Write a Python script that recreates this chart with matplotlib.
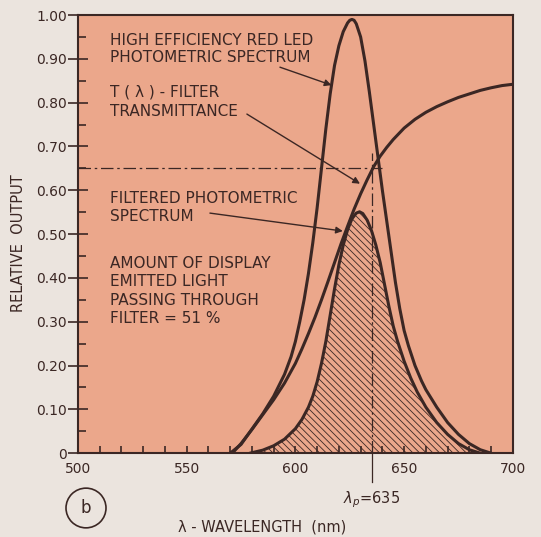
import matplotlib
matplotlib.use('Agg')
import matplotlib.pyplot as plt
from matplotlib.patches import Circle
from matplotlib.ticker import MultipleLocator

# values (wavelength in nm, relative output)
led_wl = [570, 575, 580, 585, 590, 595, 598, 600, 602, 604, 606, 608, 610, 612, 614,
          616, 618, 620, 622, 624, 625, 626, 627, 628, 630, 632, 634, 636, 638, 640,
          642, 644, 646, 648, 650, 652, 655, 658, 660, 665, 670, 675, 680, 685, 690]
led_out = [0.0, 0.02, 0.055, 0.09, 0.13, 0.18, 0.22, 0.255, 0.30, 0.35, 0.41, 0.48,
           0.56, 0.65, 0.74, 0.82, 0.885, 0.93, 0.962, 0.982, 0.988, 0.99, 0.988, 0.98,
           0.95, 0.895, 0.825, 0.75, 0.675, 0.60, 0.53, 0.46, 0.39, 0.33, 0.28, 0.245,
           0.20, 0.165, 0.145, 0.105, 0.07, 0.043, 0.022, 0.008, 0.0]

filt_wl = [571, 575, 580, 585, 590, 595, 600, 603, 606, 609, 612, 615, 618, 621, 624,
           627, 630, 633, 636, 639, 642, 645, 650, 655, 660, 665, 670, 675, 680, 685,
           690, 695, 700]
filt_t = [0.0, 0.022, 0.054, 0.088, 0.122, 0.16, 0.205, 0.238, 0.273, 0.31, 0.35,
          0.392, 0.435, 0.478, 0.518, 0.557, 0.592, 0.624, 0.654, 0.678, 0.698, 0.716,
          0.742, 0.762, 0.778, 0.791, 0.802, 0.812, 0.82, 0.828, 0.834, 0.839, 0.842]

out_wl = [579, 585, 590, 595, 600, 603, 606, 608, 610, 612, 614, 616, 618, 620, 622,
          624, 626, 628, 629.5, 631, 633, 635, 637, 639, 641, 643, 645, 647, 650, 653,
          656, 660, 665, 670, 675, 680, 685]
out_val = [0.0, 0.007, 0.017, 0.032, 0.056, 0.077, 0.105, 0.13, 0.163, 0.205, 0.255,
           0.315, 0.375, 0.43, 0.475, 0.51, 0.535, 0.548, 0.551, 0.547, 0.532, 0.508,
           0.475, 0.435, 0.385, 0.335, 0.29, 0.255, 0.21, 0.172, 0.14, 0.105, 0.07,
           0.043, 0.022, 0.008, 0.0]

peak_wl = 635
t_at_peak = 0.65

ytick_vals = [0, 0.1, 0.2, 0.3, 0.4, 0.5, 0.6, 0.7, 0.8, 0.9, 1.0]
ytick_labels = ['0', '0.10', '0.20', '0.30', '0.40', '0.50', '0.60', '0.70', '0.80', '0.90', '1.00']
xtick_vals = [500, 550, 600, 650, 700]

ink = '#3b2724'
paper = '#ebe4de'
plot_bg = '#eba78b'

plt.rcParams['hatch.linewidth'] = 0.6

fig = plt.figure(figsize=(5.41, 5.37), dpi=100, facecolor=paper)
ax = fig.add_axes([0.144, 0.156, 0.804, 0.816], facecolor=plot_bg)

ax.fill_between(out_wl, out_val, 0, facecolor='none', edgecolor=ink, hatch='\\' * 5, linewidth=0)
ax.plot(led_wl, led_out, color=ink, lw=2.2, solid_capstyle='round', solid_joinstyle='round')
ax.plot(filt_wl, filt_t, color=ink, lw=2.2, solid_capstyle='round', solid_joinstyle='round')
ax.plot(out_wl, out_val, color=ink, lw=2.2, solid_capstyle='round', solid_joinstyle='round')

# dash-dot construction lines for the peak wavelength
ax.plot([500, 640], [t_at_peak, t_at_peak], color=ink, lw=0.9, ls=(0, (10, 3, 2, 3)))
ax.plot([peak_wl, peak_wl], [0, 0.685], color=ink, lw=0.9, ls=(0, (10, 3, 2, 3)))
ax.plot([peak_wl, peak_wl], [0, -0.066], color=ink, lw=0.9, clip_on=False)

ax.set_xlim(500, 700)
ax.set_ylim(0, 1.0)
ax.set_xticks(xtick_vals)
ax.set_yticks(ytick_vals)
ax.set_yticklabels(ytick_labels)
ax.xaxis.set_minor_locator(MultipleLocator(10))
ax.yaxis.set_minor_locator(MultipleLocator(0.05))
ax.tick_params(axis='x', which='both', direction='in', length=5, width=1.2, colors=ink,
               labelsize=10, pad=6)
ax.tick_params(axis='y', which='major', direction='inout', length=14, width=1.2, colors=ink,
               labelsize=10, pad=1)
ax.tick_params(axis='y', which='minor', direction='in', length=6, width=1.2, colors=ink)
for s in ax.spines.values():
    s.set_linewidth(1.5)
    s.set_color(ink)

txt = dict(color=ink, fontsize=11, va='center', ha='left')
ax.text(514.7, 0.943, 'HIGH EFFICIENCY RED LED', **txt)
ax.text(514.7, 0.902, 'PHOTOMETRIC SPECTRUM', **txt)
ax.text(514.7, 0.824, 'T ( λ ) - FILTER', **txt)
ax.text(514.7, 0.779, 'TRANSMITTANCE', **txt)
ax.text(514.7, 0.582, 'FILTERED PHOTOMETRIC', **txt)
ax.text(514.7, 0.541, 'SPECTRUM', **txt)
ax.text(514.7, 0.434, 'AMOUNT OF DISPLAY', **txt)
ax.text(514.7, 0.393, 'EMITTED LIGHT', **txt)
ax.text(514.7, 0.349, 'PASSING THROUGH', **txt)
ax.text(514.7, 0.308, 'FILTER = 51 %', **txt)

arrow = dict(arrowstyle='-|>', color=ink, lw=1.0, mutation_scale=10, shrinkA=0, shrinkB=0)
ax.annotate('', xy=(616.6, 0.840), xytext=(592.9, 0.881), arrowprops=arrow)
ax.annotate('', xy=(629.7, 0.615), xytext=(577.7, 0.774), arrowprops=arrow)
ax.annotate('', xy=(621.8, 0.507), xytext=(560.7, 0.548), arrowprops=arrow)

ax.text(peak_wl, -0.105, r'$\lambda_p$=635', color=ink, fontsize=10.5, ha='center', va='center')

fig.text(262 / 541, 1 - 527 / 537, 'λ - WAVELENGTH  (nm)', color=ink, fontsize=10.5,
         ha='center', va='center')
fig.text(19 / 541, 1 - 243 / 537, 'RELATIVE  OUTPUT', color=ink, fontsize=10.5,
         rotation=90, ha='center', va='center')

fig.patches.append(Circle((86 / 541, 1 - 508 / 537), 20 / 541, transform=fig.transFigure,
                          fill=False, edgecolor=ink, lw=1.2))
fig.text(86 / 541, 1 - 508 / 537, 'b', color=ink, fontsize=12, ha='center', va='center')

fig.savefig('out.png', dpi=100, facecolor=paper)
